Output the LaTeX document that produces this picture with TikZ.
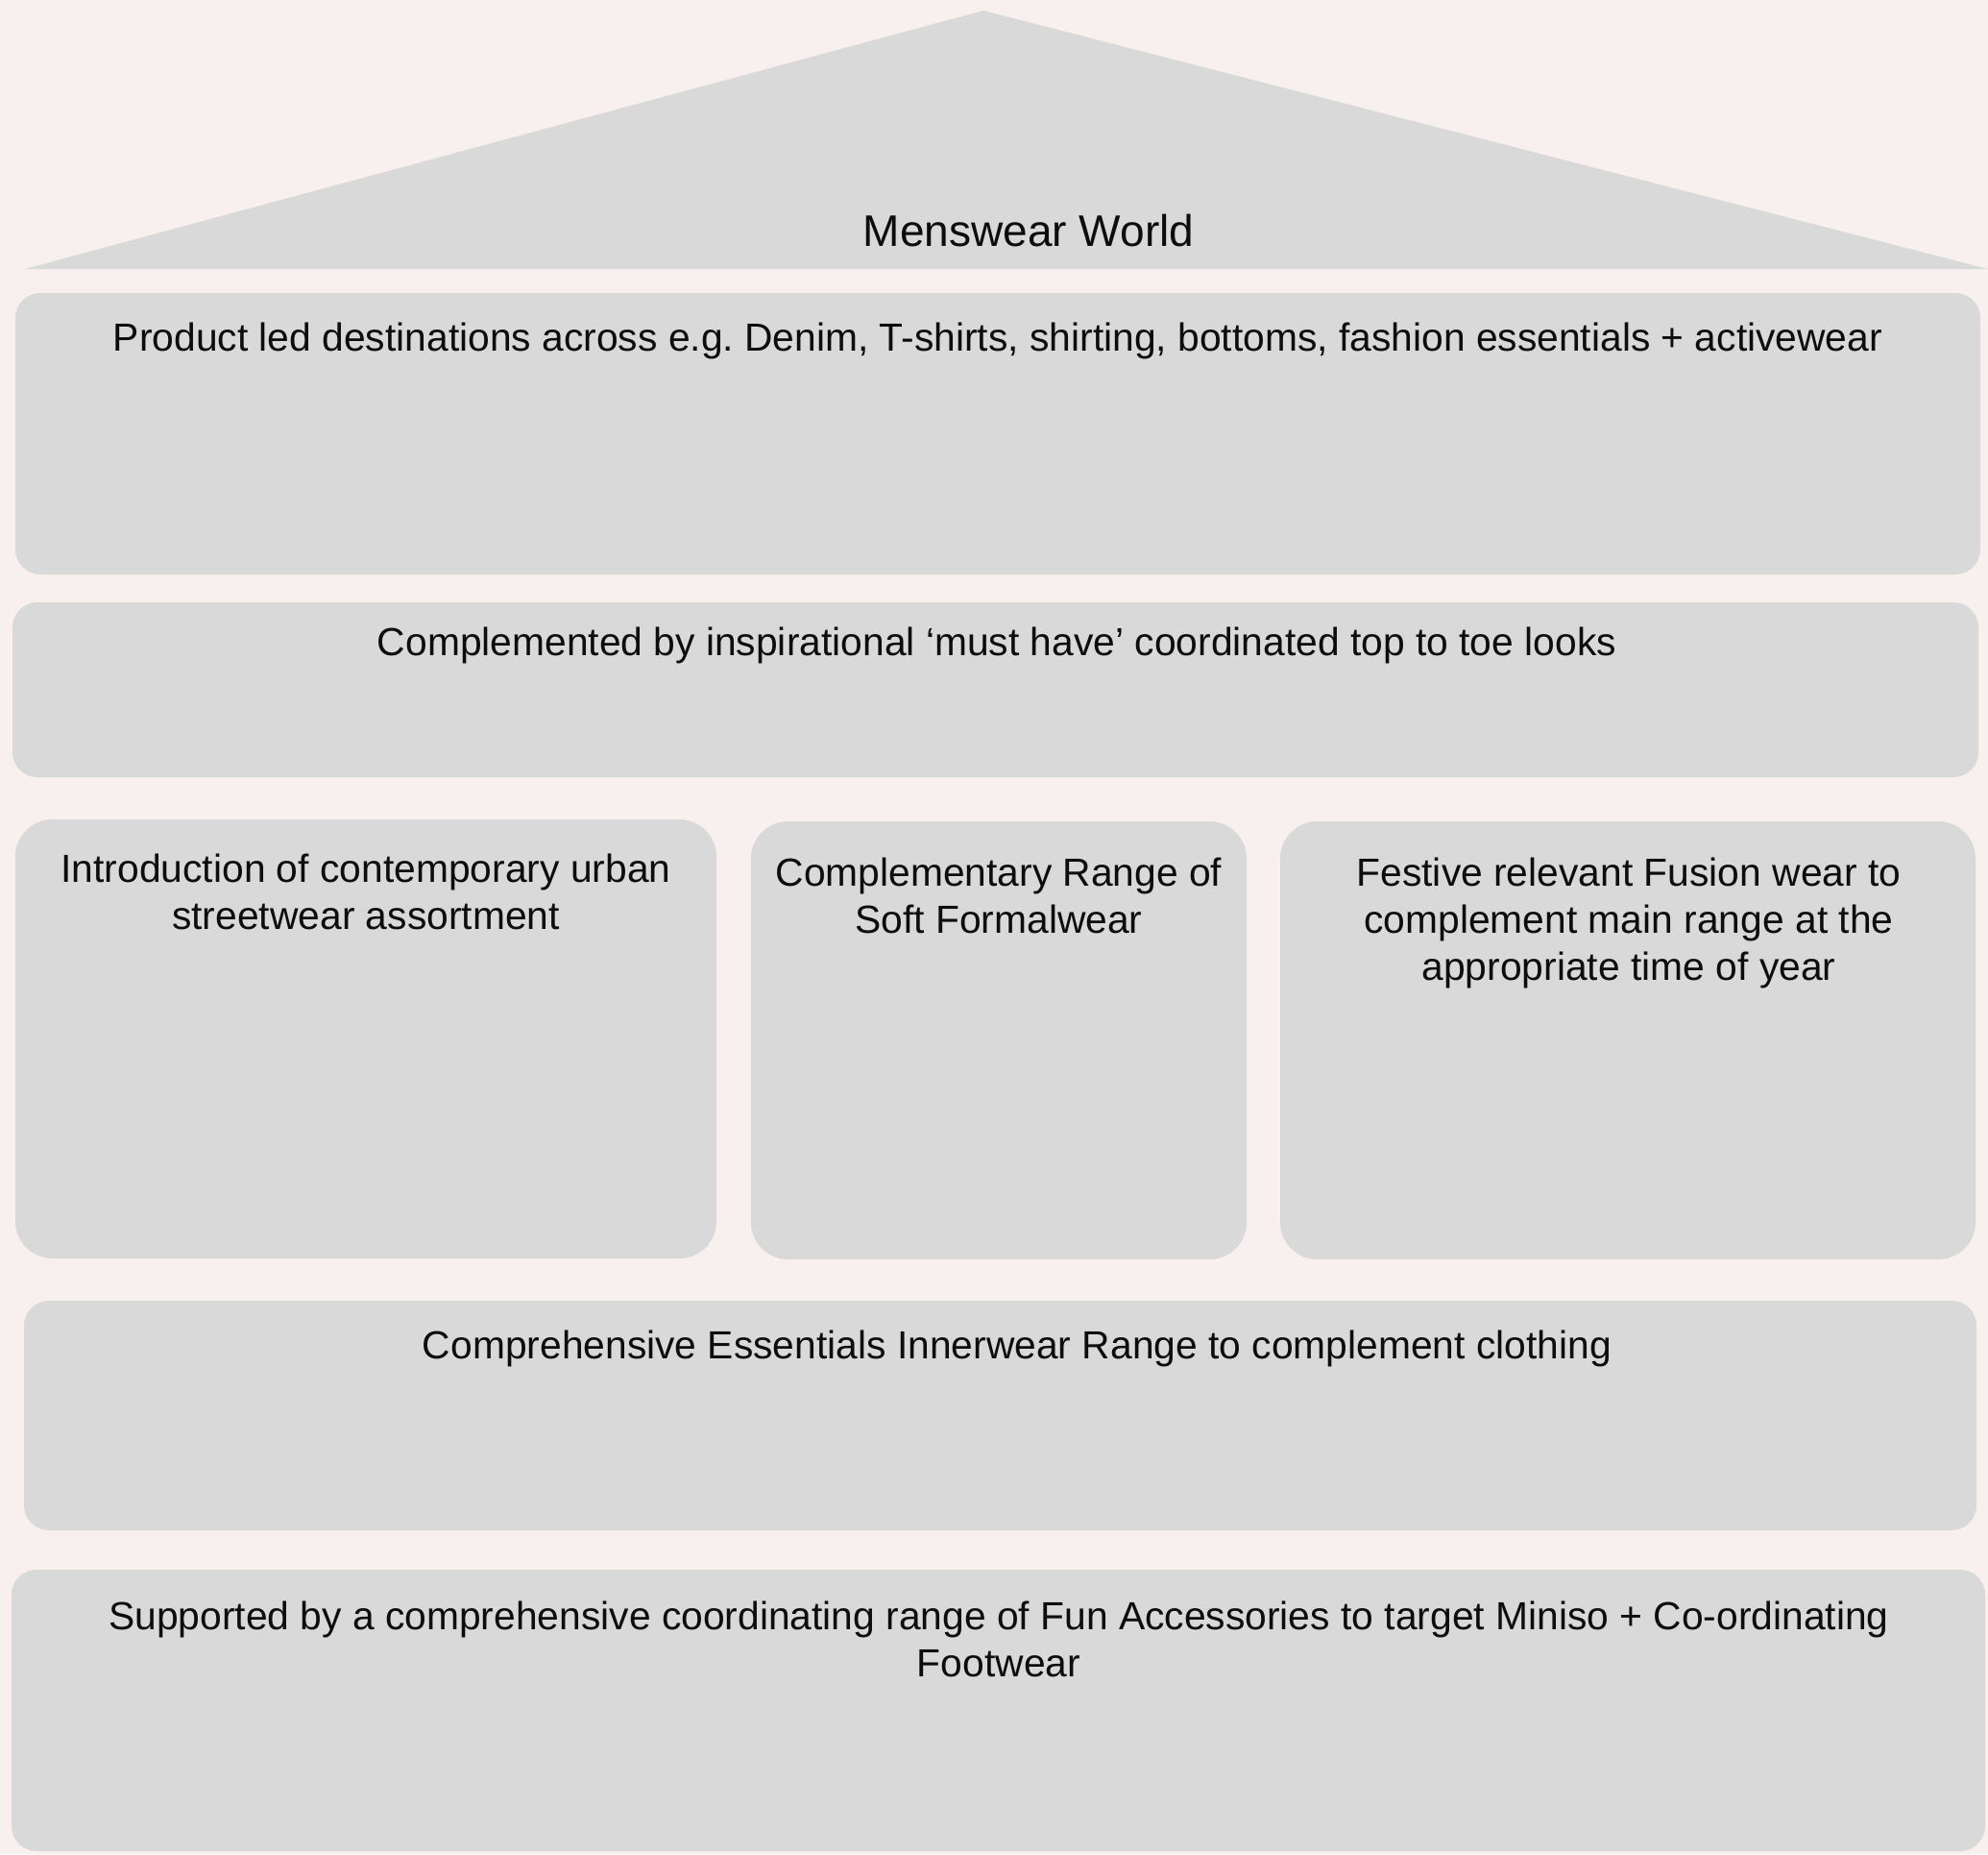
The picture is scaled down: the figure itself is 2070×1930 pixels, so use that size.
\documentclass[tikz,border=0pt]{standalone}
\usepackage{fontspec}
\setmainfont{Liberation Sans}
\usepackage{tikz}
\definecolor{wall}{HTML}{F8F0EE}
\definecolor{brick}{HTML}{D9D9D9}
\frenchspacing

\begin{document}
\begin{tikzpicture}[x=0.01cm,y=-0.01cm,
  block/.style={fill=brick, draw=none, rounded corners=7.4pt},
  pillar/.style={fill=brick, draw=none, rounded corners=11pt},
  txt/.style={anchor=north, inner sep=0pt, align=center, text=black!95,
    font=\fontsize{11.6}{14}\selectfont}]
\fill [wall] (0,0) rectangle (2070,1930);
\useasboundingbox (0,0) rectangle (2070,1930);

% roof
\fill [brick] (26,280) -- (1024,11) -- (2070,280) -- cycle;
\node [txt, font=\fontsize{13.1}{16}\selectfont] (roof) at (1071,222) {Menswear World};

% floors
\draw [block] (16,305) rectangle (2062,598);
\node [txt] (dest) at (1039,335) {Product led destinations across e.g. Denim, T-shirts, shirting, bottoms, fashion essentials + activewear};

\draw [block] (13,627) rectangle (2060,809);
\node [txt] (looks) at (1038,652) {Complemented by inspirational ‘must have’ coordinated top to toe looks};

% pillars
\draw [pillar] (16,853) rectangle (746,1310);
\node [txt] (urban) at (381,888) {Introduction of contemporary urban\\streetwear assortment};

\draw [pillar] (782,855) rectangle (1298,1311);
\node [txt] (formal) at (1040,892) {Complementary Range of\\Soft Formalwear};

\draw [pillar] (1333,855) rectangle (2057,1311);
\node [txt] (fusion) at (1696,892) {Festive relevant Fusion wear to\\complement main range at the\\appropriate time of year};

% foundations
\draw [block] (25,1354) rectangle (2058,1593);
\node [txt] (inner) at (1059,1384) {Comprehensive Essentials Innerwear Range to complement clothing};

\draw [block] (12,1634) rectangle (2067,1927);
\node [txt] (access) at (1040,1666) {Supported by a comprehensive coordinating range of Fun Accessories to target Miniso + Co-ordinating\\Footwear};
\end{tikzpicture}
\end{document}
